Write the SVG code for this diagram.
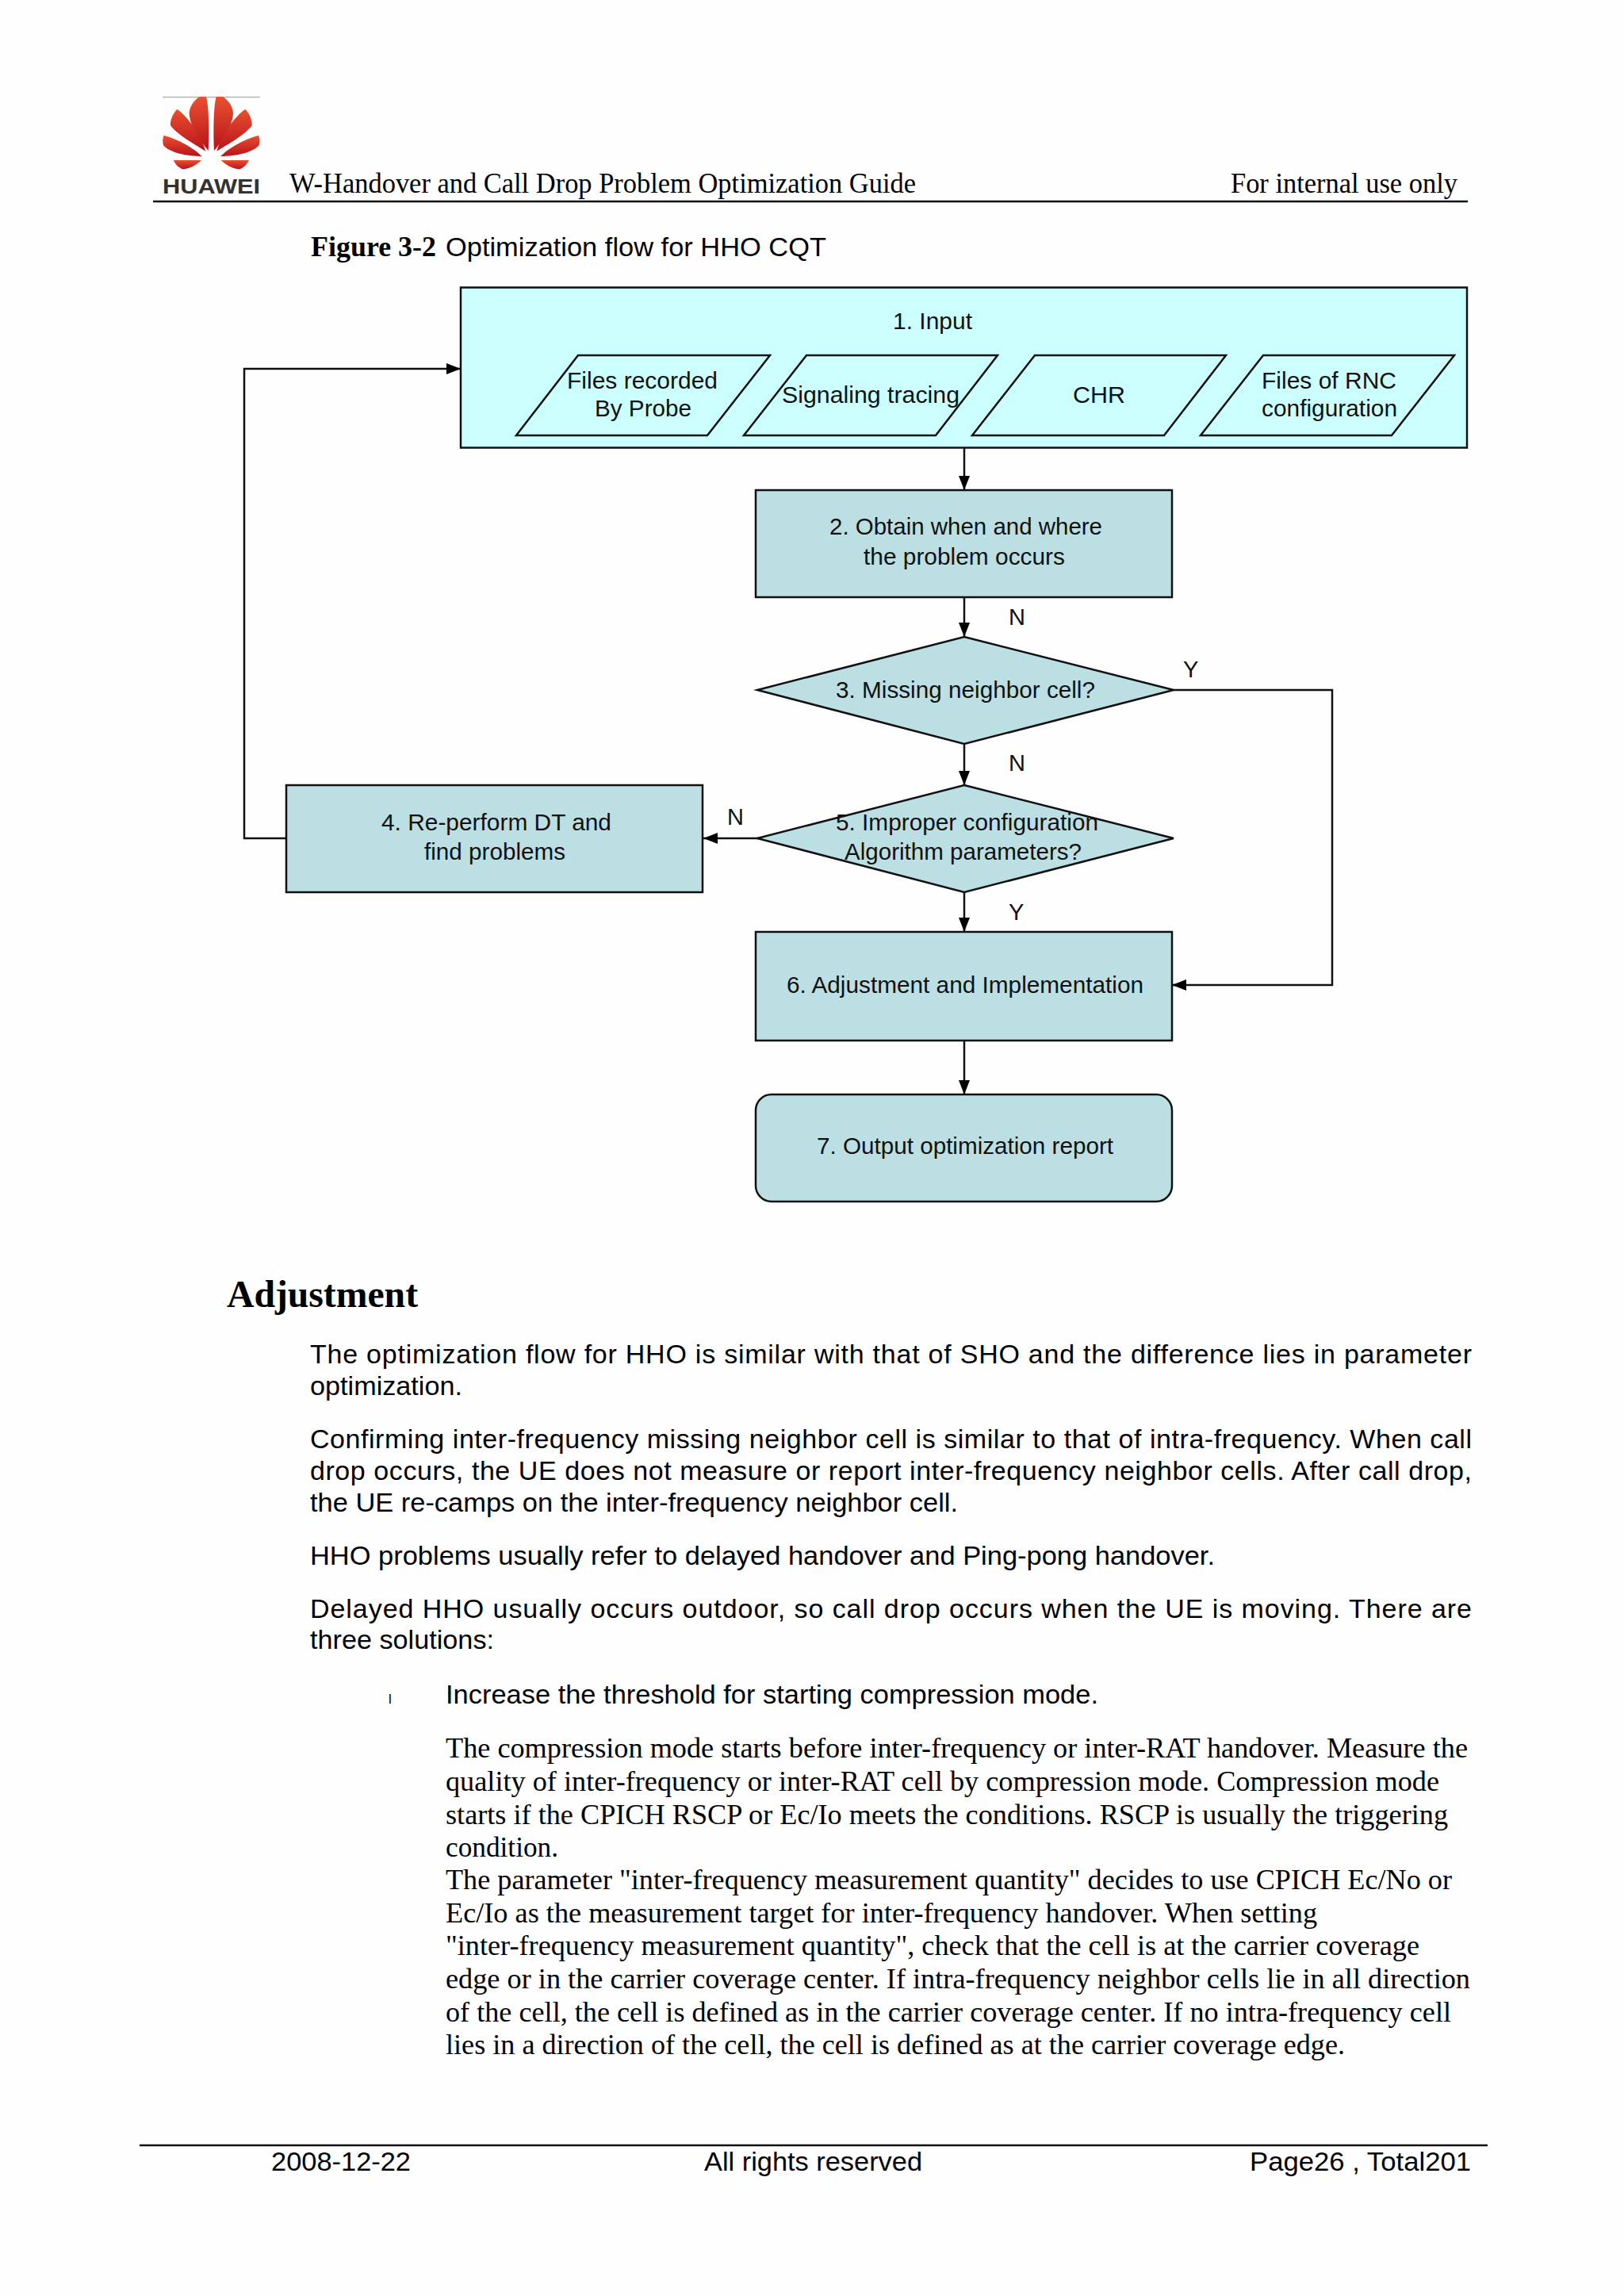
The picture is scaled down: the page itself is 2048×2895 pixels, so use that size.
<svg xmlns="http://www.w3.org/2000/svg" xmlns:xlink="http://www.w3.org/1999/xlink" width="2048" height="2895" viewBox="0 0 2048 2895">
<style>
text{fill:#000;white-space:pre}
.a{font-family:"Liberation Sans",Arial,sans-serif;font-size:34px}
.t{font-family:"Liberation Serif","Times New Roman",serif;font-size:36px}
.f{font-family:"Liberation Sans",Arial,sans-serif;font-size:29px;fill:#111}
.b{fill:#bbdfe3;stroke:#111;stroke-width:2.5}
.c{fill:#ccffff;stroke:#111;stroke-width:2.5}
.cn{fill:none;stroke:#111;stroke-width:2.5;marker-end:url(#ah)}
.rule{stroke:#111;stroke-width:2.5;fill:none}
</style>
<defs>
<marker id="ah" markerUnits="userSpaceOnUse" markerWidth="18" markerHeight="14" refX="18" refY="7" orient="auto"><path d="M0,0L18,7L0,14Z" fill="#000"/></marker>
<linearGradient id="pg" x1="0" y1="0" x2="0" y2="1"><stop offset="0" stop-color="#e8502f"/><stop offset="1" stop-color="#b9121b"/></linearGradient>
<g id="petals">
<path d="M248,270C215,230 175,170 176,125C180,95 200,75 215,66L240,66C250,100 252,200 248,270Z"/>
<path d="M237,272C195,245 130,210 105,175C103,150 118,125 130,113C170,140 225,215 237,272Z"/>
<path d="M224,292C170,290 105,280 78,250C74,235 76,222 80,212C130,225 195,260 224,292Z"/>
<path d="M222,306C190,306 150,306 116,306C125,325 140,338 155,340C180,338 205,322 222,306Z"/>
</g>
</defs>
<rect width="2048" height="2895" fill="#fefefe"/>

<g id="logo">
<line x1="205" y1="122.500" x2="328" y2="122.500" stroke="#b5b5b5" stroke-width="1.500"/>
<g transform="translate(180,100) scale(0.3333)" fill="url(#pg)">
<use xlink:href="#petals"/>
<use xlink:href="#petals" transform="translate(518,0) scale(-1,1)"/>
</g>
<text x="205" y="244" font-family="'Liberation Sans',Arial,sans-serif" font-weight="700" font-size="26" textLength="123" lengthAdjust="spacingAndGlyphs" style="fill:#333">HUAWEI</text>
</g>

<g id="header">
<text class="t" x="365" y="243" textLength="790" lengthAdjust="spacingAndGlyphs">W-Handover and Call Drop Problem Optimization Guide</text>
<text class="t" x="1552" y="243" textLength="286" lengthAdjust="spacingAndGlyphs">For internal use only</text>
<line class="rule" x1="193" y1="254" x2="1851" y2="254"/>
</g>

<g id="caption">
<text class="t" x="392" y="323" font-weight="700" textLength="158" lengthAdjust="spacingAndGlyphs">Figure 3-2</text>
<text class="a" x="562" y="323" textLength="480" lengthAdjust="spacingAndGlyphs">Optimization flow for HHO CQT</text>
</g>

<g id="connectors">
<path class="cn" d="M1216,564V618"/>
<path class="cn" d="M1216,753V803"/>
<path class="cn" d="M1216,938V990"/>
<path class="cn" d="M956,1057H887"/>
<path class="cn" d="M361,1057H308V465H581"/>
<path class="cn" d="M1480,870H1680V1242H1478"/>
<path class="cn" d="M1216,1124V1175"/>
<path class="cn" d="M1216,1312V1380"/>
</g>

<g id="n1-input">
<rect class="c" x="581" y="362.500" width="1269" height="202"/>
<text class="f" x="1126" y="415" textLength="100" lengthAdjust="spacingAndGlyphs">1. Input</text>
</g>
<g id="n1a-probe">
<polygon class="c" points="729,448 971,448 892,549 651,549"/>
<text class="f" x="715" y="490" textLength="190" lengthAdjust="spacingAndGlyphs">Files recorded</text>
<text class="f" x="750" y="525" textLength="122" lengthAdjust="spacingAndGlyphs">By Probe</text>
</g>
<g id="n1b-signaling">
<polygon class="c" points="1017,448 1258,448 1180,549 938,549"/>
<text class="f" x="986" y="508" textLength="224" lengthAdjust="spacingAndGlyphs">Signaling tracing</text>
</g>
<g id="n1c-chr">
<polygon class="c" points="1305,448 1546,448 1468,549 1226,549"/>
<text class="f" x="1353" y="508" textLength="66" lengthAdjust="spacingAndGlyphs">CHR</text>
</g>
<g id="n1d-rnc">
<polygon class="c" points="1593,448 1834,448 1755,549 1514,549"/>
<text class="f" x="1591" y="490" textLength="170" lengthAdjust="spacingAndGlyphs">Files of RNC</text>
<text class="f" x="1591" y="525" textLength="171" lengthAdjust="spacingAndGlyphs">configuration</text>
</g>
<g id="n2-obtain">
<rect class="b" x="953" y="618" width="525" height="135"/>
<text class="f" x="1046" y="674" textLength="344" lengthAdjust="spacingAndGlyphs">2. Obtain when and where</text>
<text class="f" x="1089" y="712" textLength="254" lengthAdjust="spacingAndGlyphs">the problem occurs</text>
</g>
<g id="n3-missing">
<polygon class="b" points="1216,803 1480,870 1216,938 955,870"/>
<text class="f" x="1054" y="880" textLength="327" lengthAdjust="spacingAndGlyphs">3. Missing neighbor cell?</text>
</g>
<g id="n4-reperform">
<rect class="b" x="361" y="990" width="525" height="135"/>
<text class="f" x="481" y="1047" textLength="290" lengthAdjust="spacingAndGlyphs">4. Re-perform DT and</text>
<text class="f" x="535" y="1084" textLength="178" lengthAdjust="spacingAndGlyphs">find problems</text>
</g>
<g id="n5-improper">
<polygon class="b" points="1216,990 1480,1057 1216,1125 955,1057"/>
<text class="f" x="1054" y="1047" textLength="331" lengthAdjust="spacingAndGlyphs">5. Improper configuration</text>
<text class="f" x="1065" y="1084" textLength="299" lengthAdjust="spacingAndGlyphs">Algorithm parameters?</text>
</g>
<g id="n6-adjust">
<rect class="b" x="953" y="1175" width="525" height="137"/>
<text class="f" x="992" y="1252" textLength="450" lengthAdjust="spacingAndGlyphs">6. Adjustment and Implementation</text>
</g>
<g id="n7-output">
<rect class="b" x="953" y="1380" width="525" height="135" rx="20" ry="20"/>
<text class="f" x="1030" y="1455" textLength="374" lengthAdjust="spacingAndGlyphs">7. Output optimization report</text>
</g>
<g id="edge-labels">
<text class="f" x="1272" y="788">N</text>
<text class="f" x="1492" y="854">Y</text>
<text class="f" x="1272" y="972">N</text>
<text class="f" x="917" y="1040">N</text>
<text class="f" x="1272" y="1160">Y</text>
</g>

<g id="body">
<text x="286" y="1648" font-family="'Liberation Serif','Times New Roman',serif" font-weight="700" font-size="48" textLength="241" lengthAdjust="spacingAndGlyphs">Adjustment</text>
<text class="a" x="391" y="1719" textLength="1465">The optimization flow for HHO is similar with that of SHO and the difference lies in parameter</text>
<text class="a" x="391" y="1759" textLength="192" lengthAdjust="spacingAndGlyphs">optimization.</text>
<text class="a" x="391" y="1826" textLength="1465">Confirming inter-frequency missing neighbor cell is similar to that of intra-frequency. When call</text>
<text class="a" x="391" y="1866" textLength="1465">drop occurs, the UE does not measure or report inter-frequency neighbor cells. After call drop,</text>
<text class="a" x="391" y="1906" textLength="817" lengthAdjust="spacingAndGlyphs">the UE re-camps on the inter-frequency neighbor cell.</text>
<text class="a" x="391" y="1973" textLength="1141" lengthAdjust="spacingAndGlyphs">HHO problems usually refer to delayed handover and Ping-pong handover.</text>
<text class="a" x="391" y="2040" textLength="1465">Delayed HHO usually occurs outdoor, so call drop occurs when the UE is moving. There are</text>
<text class="a" x="391" y="2079" textLength="232" lengthAdjust="spacingAndGlyphs">three solutions:</text>
<text class="a" x="490" y="2148" style="font-size:17px">l</text>
<text class="a" x="562" y="2148" textLength="823" lengthAdjust="spacingAndGlyphs">Increase the threshold for starting compression mode.</text>
<text class="t" x="562" y="2216" textLength="1289" lengthAdjust="spacingAndGlyphs">The compression mode starts before inter-frequency or inter-RAT handover. Measure the</text>
<text class="t" x="562" y="2258" textLength="1253" lengthAdjust="spacingAndGlyphs">quality of inter-frequency or inter-RAT cell by compression mode. Compression mode</text>
<text class="t" x="562" y="2300" textLength="1264" lengthAdjust="spacingAndGlyphs">starts if the CPICH RSCP or Ec/Io meets the conditions. RSCP is usually the triggering</text>
<text class="t" x="562" y="2341" textLength="142" lengthAdjust="spacingAndGlyphs">condition.</text>
<text class="t" x="562" y="2382" textLength="1269" lengthAdjust="spacingAndGlyphs">The parameter "inter-frequency measurement quantity" decides to use CPICH Ec/No or</text>
<text class="t" x="562" y="2424" textLength="1099" lengthAdjust="spacingAndGlyphs">Ec/Io as the measurement target for inter-frequency handover. When setting</text>
<text class="t" x="562" y="2465" textLength="1228" lengthAdjust="spacingAndGlyphs">"inter-frequency measurement quantity", check that the cell is at the carrier coverage</text>
<text class="t" x="562" y="2507" textLength="1292" lengthAdjust="spacingAndGlyphs">edge or in the carrier coverage center. If intra-frequency neighbor cells lie in all direction</text>
<text class="t" x="562" y="2549" textLength="1268" lengthAdjust="spacingAndGlyphs">of the cell, the cell is defined as in the carrier coverage center. If no intra-frequency cell</text>
<text class="t" x="562" y="2590" textLength="1134" lengthAdjust="spacingAndGlyphs">lies in a direction of the cell, the cell is defined as at the carrier coverage edge.</text>
</g>

<g id="footer">
<line class="rule" x1="176" y1="2705" x2="1876" y2="2705"/>
<text class="a" x="342" y="2737" textLength="176" lengthAdjust="spacingAndGlyphs">2008-12-22</text>
<text class="a" x="888" y="2737" textLength="275" lengthAdjust="spacingAndGlyphs">All rights reserved</text>
<text class="a" x="1576" y="2737" textLength="279" lengthAdjust="spacingAndGlyphs">Page26 , Total201</text>
</g>
</svg>
